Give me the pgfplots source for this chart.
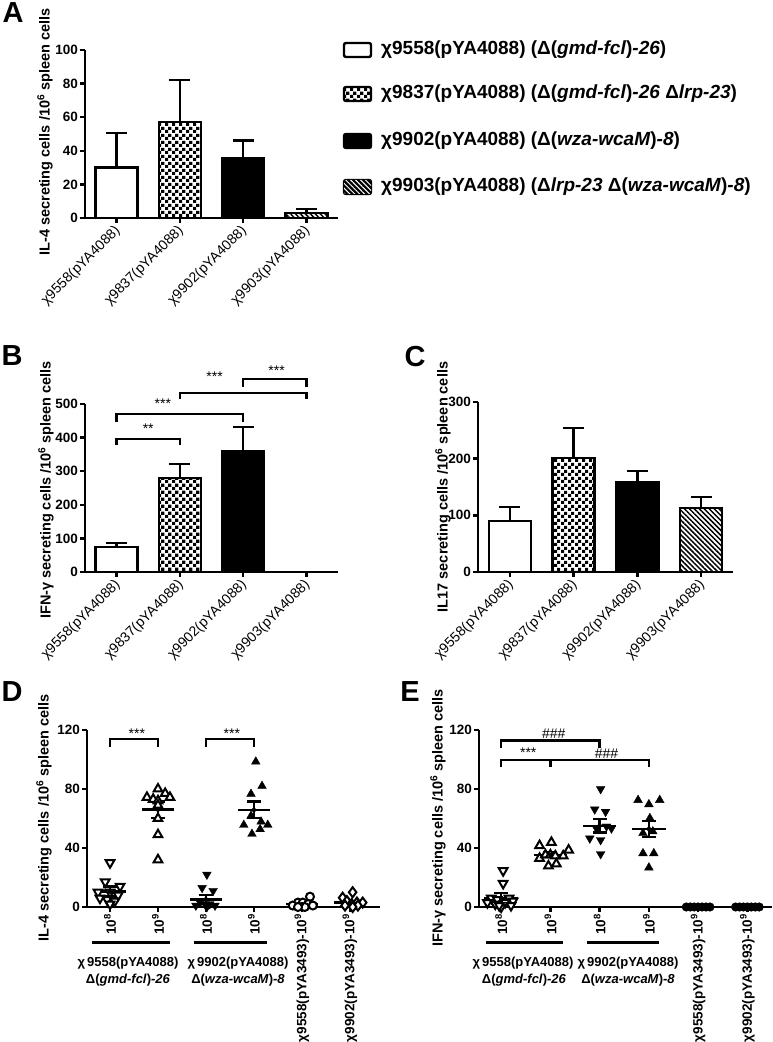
\documentclass[border=0pt]{standalone}
\usepackage{fontspec}
\setmainfont{Liberation Sans}
\usepackage{pgfplots}
\pgfplotsset{compat=1.18}
\usetikzlibrary{patterns,patterns.meta}
\newcommand\fs[1]{\fontsize{#1}{#1}\selectfont}
\tikzdeclarepattern{
  name=chk, type=uncolored,
  bounding box={(0pt,0pt) and (6.6pt,6.6pt)},
  tile size={(6.6pt,6.6pt)},
  code={\fill (0pt,0pt) rectangle (3.3pt,3.3pt); \fill (3.3pt,3.3pt) rectangle (6.6pt,6.6pt);}
}
\tikzset{brk/.style={line width=2.4pt}}
\pgfplotsset{
  panel/.style={
    scale only axis, axis lines=left, clip=false, anchor=south west,
    axis line style={line width=2.4pt,-},
    tick style={line width=2.4pt, black},
    major tick length=5pt, tick align=outside, minor tick num=0,
    /pgf/number format/assume math mode=true,
    yticklabel style={font=\fs{13.5}\bfseries, inner sep=2pt},
    xticklabel style={font=\fs{14}},
  },
  barpanel/.style={panel, xmin=0.5, xmax=4.5, xtick={1,2,3,4},
    xticklabels={χ9558(pYA4088),χ9837(pYA4088),χ9902(pYA4088),χ9903(pYA4088)},
    xticklabel style={yshift=-5pt, xshift=2pt, rotate=45, anchor=east, inner sep=1pt}},
  bar/.style={ybar, bar width=42pt, bar shift=0pt, draw=black, line width=2.4pt,
    error bars/y dir=plus, error bars/y explicit,
    error bars/error bar style={line width=2.4pt, black, solid},
    error bars/error mark options={rotate=90, line width=2.4pt, mark size=10.5pt, black}},
  dotpanel/.style={panel, ymin=0, ymax=120, ytick={0,40,80,120}, xtick={0,...,5},
    xticklabels={10\textsuperscript{8},10\textsuperscript{9},10\textsuperscript{8},10\textsuperscript{9},χ9558(pYA3493)-10\textsuperscript{9},χ9902(pYA3493)-10\textsuperscript{9}},
    xticklabel style={rotate=90, anchor=east, font=\fs{13.5}\bfseries, inner sep=2pt}},
  mn/.style={black, line width=2.4pt, mark=none},
  sem/.style={black, only marks, mark=none,
    error bars/y dir=both, error bars/y explicit,
    error bars/error bar style={line width=2.4pt, black},
    error bars/error mark options={rotate=90, line width=2.4pt, mark size=7pt, black}},
  odn/.style={only marks, mark=triangle*, mark size=5pt, mark options={rotate=180, fill=white, draw=black, line width=2pt}},
  oup/.style={only marks, mark=triangle*, mark size=5pt, mark options={fill=white, draw=black, line width=2pt}},
  fdn/.style={only marks, mark=triangle*, mark size=5pt, mark options={rotate=180, fill=black, draw=black}},
  fup/.style={only marks, mark=triangle*, mark size=5pt, mark options={fill=black, draw=black}},
  ocirc/.style={only marks, mark=*, mark size=4pt, mark options={fill=white, draw=black, line width=2pt}},
  odia/.style={only marks, mark=diamond*, mark size=5pt, mark options={fill=white, draw=black, line width=2pt}},
  fcirc/.style={only marks, mark=*, mark size=4.3pt, mark options={fill=black, draw=black}},
}
\begin{document}
\begin{tikzpicture}[x=1pt,y=1pt]
\path[use as bounding box] (0,0) rectangle (772,1042);

% ---------- Panel A ----------
\begin{axis}[barpanel, at={(85pt,824pt)}, width=253pt, height=168pt, ymin=0, ymax=100, ytick={0,20,...,100}]
\addplot[bar, fill=white] coordinates {(1,30) +- (0,20.5)};
\addplot[bar, pattern=chk] coordinates {(2,57) +- (0,25.3)};
\addplot[bar, fill=black] coordinates {(3,35.7) +- (0,10.5)};
\addplot[bar, pattern={Lines[angle=-45,distance=3.5pt,line width=1.5pt]}] coordinates {(4,3) +- (0,2.5)};
\end{axis}

% legend
\draw[line width=2.4pt, rounded corners=2pt, fill=white] (344,985) rectangle (371,999);
\draw[line width=2.4pt, rounded corners=2pt, pattern=chk] (344,941) rectangle (371,955);
\draw[line width=2.4pt, rounded corners=2pt, fill=black] (344,894) rectangle (371,908);
\draw[line width=2.4pt, rounded corners=2pt, fill=black, postaction={pattern={Lines[angle=-45,distance=3.5pt,line width=1pt]}, pattern color=white}] (344,848) rectangle (371,862);
\begin{scope}[every node/.style={anchor=west, font=\fs{19}\bfseries, inner sep=0pt}]
\node at (381,992) {χ9558(pYA4088) (Δ(\textit{gmd-fcl})\textit{-26})};
\node at (381,948) {χ9837(pYA4088) (Δ(\textit{gmd-fcl})\textit{-26} Δ\textit{lrp-23})};
\node at (381,901) {χ9902(pYA4088) (Δ(\textit{wza-wcaM})\textit{-8})};
\node at (381,855) {χ9903(pYA4088) (Δ\textit{lrp-23} Δ(\textit{wza-wcaM})\textit{-8})};
\end{scope}

% ---------- Panel B ----------
\begin{axis}[barpanel, at={(85pt,470pt)}, width=253pt, height=168pt, ymin=0, ymax=500, ytick={0,100,...,500}]
\addplot[bar, fill=white] coordinates {(1,74) +- (0,13)};
\addplot[bar, pattern=chk] coordinates {(2,280) +- (0,41)};
\addplot[bar, fill=black] coordinates {(3,360) +- (0,72)};
\draw[brk] (axis cs:1,378) -- (axis cs:1,396) -- (axis cs:2,396) -- (axis cs:2,378);
\node[font=\fs{14}] at (axis cs:1.5,428) {**};
\draw[brk] (axis cs:1,446) -- (axis cs:1,470) -- (axis cs:3,470) -- (axis cs:3,446);
\node[font=\fs{14}] at (axis cs:1.73,500) {***};
\draw[brk] (axis cs:2,515) -- (axis cs:2,533) -- (axis cs:4,533) -- (axis cs:4,515);
\node[font=\fs{14}] at (axis cs:2.55,580) {***};
\draw[brk] (axis cs:3,551) -- (axis cs:3,574) -- (axis cs:4,574) -- (axis cs:4,551);
\node[font=\fs{14}] at (axis cs:3.53,598) {***};
\end{axis}

% ---------- Panel C ----------
\begin{axis}[barpanel, at={(478pt,470pt)}, width=255pt, height=170pt, ymin=0, ymax=300, ytick={0,100,200,300}]
\addplot[bar, fill=white] coordinates {(1,90) +- (0,25)};
\addplot[bar, pattern=chk] coordinates {(2,201) +- (0,53)};
\addplot[bar, fill=black] coordinates {(3,159) +- (0,19)};
\addplot[bar, pattern={Lines[angle=-45,distance=3.5pt,line width=1.5pt]}] coordinates {(4,113) +- (0,19)};
\end{axis}

% ---------- Panel D ----------
\begin{axis}[dotpanel, at={(87pt,135pt)}, width=293pt, height=177pt, xmin=-0.48, xmax=5.63]
\addplot[odn] coordinates {(0,30) (-0.10,17) (0.21,14) (-0.25,10) (0,10) (0.17,8) (-0.21,6) (-0.06,5) (0.10,4) (0,2)};
\addplot[oup] coordinates {(1,80) (0.77,74.3) (0.90,73) (1.15,77) (1.25,74.3) (1,72) (1,69) (1,60) (1,49) (1,32)};
\addplot[fdn] coordinates {(2.02,22) (1.92,13) (2.15,11) (1.88,3) (1.98,2) (2.08,2) (2.19,1) (1.79,1) (2.02,0)};
\addplot[fup] coordinates {(3.04,98.5) (3.17,82) (2.94,76.6) (2.94,61.7) (3.15,57.8) (2.79,55.6) (3.29,55.6) (3.13,52.7) (2.96,49.5)};
\addplot[ocirc] coordinates {(4.17,7) (3.92,3) (4.02,3) (4.13,2) (3.81,1) (4.23,1) (4.06,0) (3.92,0)};
\addplot[odia] coordinates {(5.06,10) (4.85,6.3) (4.94,4) (5.15,3) (5.27,3) (5.04,2) (4.90,1) (5.17,1) (5.06,0)};
\addplot[mn] coordinates {(-0.33,10.4) (0.33,10.4)};
\addplot[sem] coordinates {(0,10.4) +- (0,3.4)};
\addplot[mn] coordinates {(0.67,66) (1.33,66)};
\addplot[sem] coordinates {(1,66) +- (0,5.6)};
\addplot[mn] coordinates {(1.67,5.2) (2.33,5.2)};
\addplot[sem] coordinates {(2,5.2) +- (0,2.8)};
\addplot[mn] coordinates {(2.67,65.8) (3.33,65.8)};
\addplot[sem] coordinates {(3,65.8) +- (0,5.6)};
\addplot[mn] coordinates {(3.67,2) (4.33,2)};
\addplot[sem] coordinates {(4,2) +- (0,0.8)};
\addplot[mn] coordinates {(4.67,3.1) (5.33,3.1)};
\addplot[sem] coordinates {(5,3.1) +- (0,1)};
\draw[brk] (axis cs:0,108.7) -- (axis cs:0,113.9) -- (axis cs:1,113.9) -- (axis cs:1,108.7);
\node[font=\fs{14}] at (axis cs:0.56,117.7) {***};
\draw[brk] (axis cs:2,108.7) -- (axis cs:2,113.9) -- (axis cs:3,113.9) -- (axis cs:3,108.7);
\node[font=\fs{14}] at (axis cs:2.54,117.7) {***};
\end{axis}

% ---------- Panel E ----------
\begin{axis}[dotpanel, at={(479pt,135pt)}, width=293pt, height=177pt, xmin=-0.45, xmax=5.5]
\addplot[odn] coordinates {(0.04,24.6) (0.04,16) (-0.20,6) (0.16,6) (-0.08,5) (0.24,4) (-0.28,3) (0.08,3) (-0.12,2) (0.20,1) (0,0) (-0.04,1)};
\addplot[oup] coordinates {(0.78,41.6) (1.02,43.8) (1.37,38.6) (0.78,33) (0.90,35.3) (1,35.3) (1.10,34.6) (1.26,34.6) (0.96,27.8) (1.12,29.2)};
\addplot[fdn] coordinates {(2.02,80) (1.90,66.2) (2.12,64.6) (2.24,53.3) (2.14,54.6) (1.94,53) (1.80,46.5) (2.02,45.4) (2.02,35.9)};
\addplot[fup] coordinates {(2.78,72.5) (3,69.6) (3.22,72.5) (3.02,60.2) (2.88,50) (3.08,51.2) (2.88,36.4) (3.10,36.4) (3,26.7)};
\addplot[fcirc] coordinates {(3.76,0) (3.84,0) (3.92,0) (4,0) (4.08,0) (4.16,0) (4.24,0)};
\addplot[fcirc] coordinates {(4.76,0) (4.84,0) (4.92,0) (5,0) (5.08,0) (5.16,0) (5.24,0)};
\addplot[mn] coordinates {(-0.34,5.9) (0.34,5.9)};
\addplot[sem] coordinates {(0,5.9) +- (0,3.4)};
\addplot[mn] coordinates {(0.66,35.3) (1.34,35.3)};
\addplot[sem] coordinates {(1,35.3) +- (0,1.6)};
\addplot[mn] coordinates {(1.66,55.1) (2.34,55.1)};
\addplot[sem] coordinates {(2,55.1) +- (0,4.6)};
\addplot[mn] coordinates {(2.66,52.9) (3.34,52.9)};
\addplot[sem] coordinates {(3,52.9) +- (0,5.4)};
\draw[brk] (axis cs:0,107.6) -- (axis cs:0,112.8) -- (axis cs:2,112.8) -- (axis cs:2,107.6);
\node[font=\fs{14}] at (axis cs:1.07,117.7) {\#\#\#};
\draw[brk] (axis cs:0,94.7) -- (axis cs:0,99.7) -- (axis cs:1,99.7) -- (axis cs:1,94.7);
\node[font=\fs{14}] at (axis cs:0.55,104.4) {***};
\draw[brk] (axis cs:1,94.7) -- (axis cs:1,99.7) -- (axis cs:3,99.7) -- (axis cs:3,94.7);
\node[font=\fs{14}] at (axis cs:2.14,104.2) {\#\#\#};
\end{axis}

% group lines and labels
\draw[line width=3pt] (92,99) -- (170,99);
\draw[line width=3pt] (194,99) -- (267,99);
\draw[line width=3pt] (486,99) -- (563,99);
\draw[line width=3pt] (587,99) -- (659,99);
\begin{scope}[every node/.style={font=\fs{13}\bfseries, inner sep=0pt}]
\node at (128,79) {χ\,9558(pYA4088)};
\node at (128,62) {Δ(\textit{gmd-fcl})\textit{-26}};
\node at (238,79) {χ\,9902(pYA4088)};
\node at (238,62) {Δ(\textit{wza-wcaM})\textit{-8}};
\node at (523,79) {χ\,9558(pYA4088)};
\node at (524,62) {Δ(\textit{gmd-fcl})\textit{-26}};
\node at (628,79) {χ\,9902(pYA4088)};
\node at (628,62) {Δ(\textit{wza-wcaM})\textit{-8}};
\end{scope}

% y labels
\begin{scope}[every node/.style={rotate=90, font=\fs{14.5}\bfseries, inner sep=0pt}]
\node at (45,910) {IL-4 secreting cells /10\textsuperscript{6} spleen cells};
\node at (46,552) {IFN-γ secreting cells /10\textsuperscript{6} spleen cells};
\node at (443,555) {IL17 secreting cells /10\textsuperscript{6} spleen cells};
\node at (44,224) {IL-4 secreting cells /10\textsuperscript{6} spleen cells};
\node at (438,224) {IFN-γ secreting cells /10\textsuperscript{6} spleen cells};
\end{scope}

% panel letters
\begin{scope}[every node/.style={font=\fs{29}\bfseries, inner sep=0pt}]
\node at (13,1029) {A};
\node at (12,686) {B};
\node at (415,685) {C};
\node at (12,350) {D};
\node at (410,350) {E};
\end{scope}
\end{tikzpicture}
\end{document}
